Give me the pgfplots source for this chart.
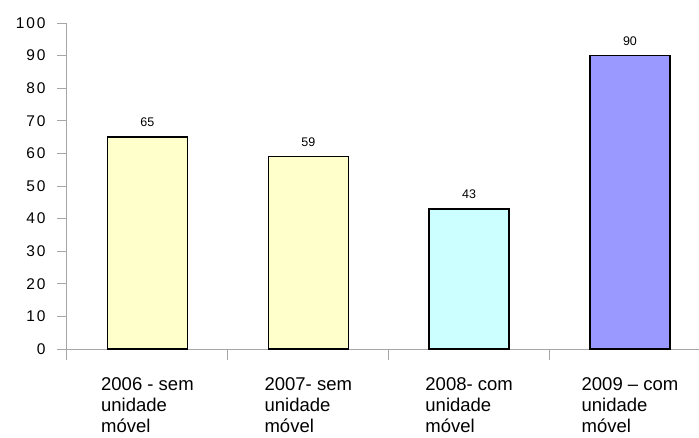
\documentclass[border=0pt]{standalone}
\usepackage{fontspec}
\setmainfont{Liberation Sans}
\newfontfamily\tickfont[LetterSpace=12]{Liberation Sans}
\usepackage{pgfplots}
\pgfplotsset{compat=1.18}

\definecolor{barYellow}{HTML}{FFFFCC}
\definecolor{barCyan}{HTML}{CCFFFF}
\definecolor{barViolet}{HTML}{9999FF}
\definecolor{axisGray}{HTML}{A6A6A6}

\begin{document}
\begin{tikzpicture}
\useasboundingbox (-67pt,-88pt) rectangle (632pt,349pt);
\begin{axis}[
  scale only axis,
  width=632pt, height=326pt,
  xmin=-0.5, xmax=3.429,
  ymin=0, ymax=100,
  ytick={0,10,...,100},
  xtick={0,1,2,3},
  xticklabels={%
    {\begin{tabular}{@{}l@{}}2006 - sem\\unidade\\móvel\end{tabular}},
    {\begin{tabular}{@{}l@{}}2007- sem\\unidade\\móvel\end{tabular}},
    {\begin{tabular}{@{}l@{}}2008- com\\unidade\\móvel\end{tabular}},
    {\begin{tabular}{@{}l@{}}2009 – com\\unidade\\móvel\end{tabular}}},
  minor xtick={-0.5,0.5,1.5,2.5},
  major x tick style={draw=none},
  minor x tick style={draw=axisGray, line width=1pt},
  ytick style={draw=axisGray, line width=1pt},
  tick align=outside,
  major tick length=10pt, minor tick length=11pt,
  axis x line*=bottom, axis y line*=left,
  axis line style={draw=axisGray, line width=1pt},
  /pgf/number format/assume math mode=true,
  yticklabel style={font=\tickfont\fontsize{15.5}{18}\selectfont, text=black, xshift=-8pt},
  xticklabel style={font=\fontsize{18.5}{21}\selectfont, text=black, anchor=north, yshift=-13pt},
  every node near coord/.append style={font=\fontsize{12.5}{15}\selectfont, text=black, yshift=6pt},
  nodes near coords,
  ybar, bar width=80pt, bar shift=0pt,
  clip=false,
]
\addplot[fill=barYellow, draw=black, line width=1.5pt] coordinates {(0,65)};
\addplot[fill=barYellow, draw=black, line width=1.5pt] coordinates {(1,59)};
\addplot[fill=barCyan, draw=black, line width=1.5pt] coordinates {(2,43)};
\addplot[fill=barViolet, draw=black, line width=1.5pt] coordinates {(3,90)};
\end{axis}
\end{tikzpicture}
\end{document}
